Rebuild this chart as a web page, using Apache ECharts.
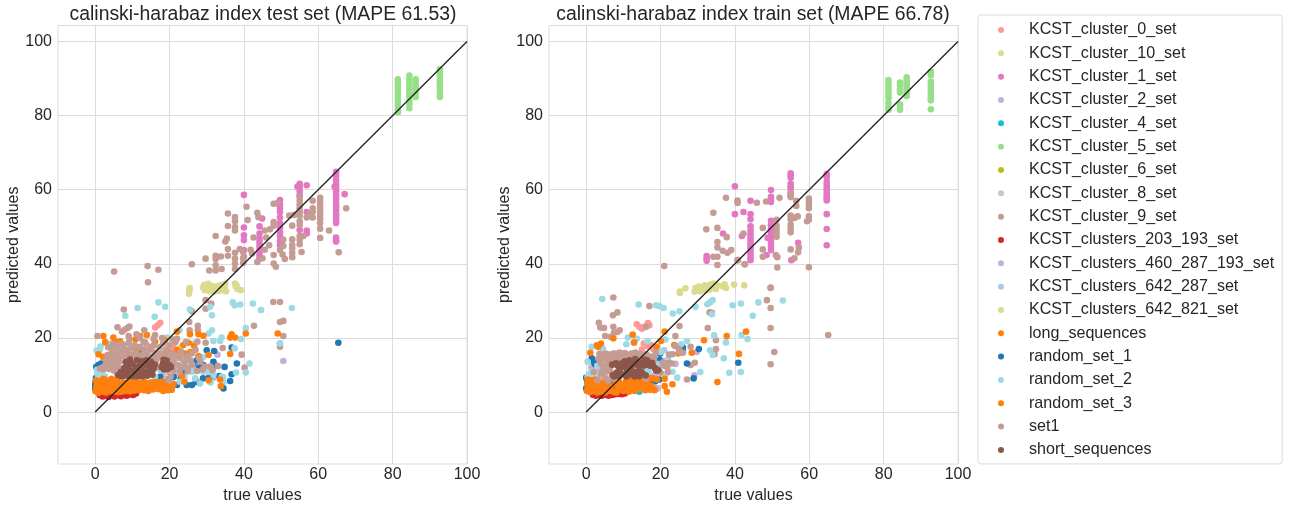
<!DOCTYPE html>
<html><head><meta charset="utf-8">
<style>html,body{margin:0;padding:0;background:#fff}#c{width:1293px;height:508px}</style>
<script src="https://cdn.jsdelivr.net/npm/echarts@6/dist/echarts.min.js"></script>
</head><body><div id="c"></div>
<script>
const seriesNames=['KCST_cluster_0_set','KCST_cluster_10_set','KCST_cluster_1_set','KCST_cluster_2_set','KCST_cluster_4_set','KCST_cluster_5_set','KCST_cluster_6_set','KCST_cluster_8_set','KCST_cluster_9_set','KCST_clusters_203_193_set','KCST_clusters_460_287_193_set','KCST_clusters_642_287_set','KCST_clusters_642_821_set','long_sequences','random_set_1','random_set_2','random_set_3','set1','short_sequences'];
const seriesColors=['#ff9896','#dbdb8d','#e377c2','#c5b0d5','#17becf','#98df8a','#bcbd22','#c7c7c7','#c49c94','#d62728','#c5b0d5','#aec7e8','#dbdb8d','#ff7f0e','#1f77b4','#9edae5','#ff7f0e','#c49c94','#8c564b'];
const axisTicksX=[0,20,40,60,80,100];
const axisTicksY=[0,20,40,60,80,100];
const identityLine=[[0,0],[100,100]];

// ---------- test set ----------
const testCluster0=[[16.1,22.8],[16.8,23.4],[17.5,24.1],[13.9,18],[14.3,17.6],[21,18],[20.6,17.2],[21.6,16.4]];
const testCluster10=[[25.3,33],[25.3,32.5],[25.4,33.5],[29,33.6],[29.3,34.3],[29.5,32.9],[30,33.2],[30.4,34.6],[30.8,32.6],[31,33.5],[31.5,34],[32,32.5],[32.3,33.3],[32.9,34],[33.2,32.7],[33.6,33.5],[34,34.3],[34.4,32.9],[34.8,33.7],[35,34.6],[35.2,32.6],[37.6,34.7],[37.8,33.9],[38.3,33.2],[39.2,32.9],[38,34.2]];
const testCluster1=[[40,58.6],[40,49.8],[40,47.7],[40,46.4],[40,43.7],[40,41.9],[44.9,52.2],[44.2,50.1],[44.2,48.2],[44.2,46.8],[44.2,45.9],[44.2,45],[44.2,44.1],[44.2,43.2],[44.2,42.3],[44.2,41.4],[49.7,57.2],[49.7,56],[49.7,55],[49.7,54],[49.7,52.5],[49.7,51],[49.7,49.8],[49.7,48.5],[49.7,47.4],[49.7,46],[49.7,45],[55,61.6],[55,60.6],[55,59.5],[54.4,60.8],[55,58.5],[55,49.1],[56.9,61.2],[56.9,54],[56.9,49],[56.9,48.2],[64.8,64.8],[64.8,63.7],[64.8,62.5],[64.8,61.5],[64.4,60.8],[64.8,60.5],[64.8,59.5],[64.8,58.5],[64.8,57.5],[64.8,56.5],[64.8,55.5],[64.8,54.5],[64.8,53.5],[64.8,52.8],[64.8,52],[64.8,51],[64.8,47.1],[64.8,46.4],[64.8,46],[67.1,58.8]];
const testCluster2=[[21,15],[23.6,14.2],[25.4,13.5],[27,12],[28.1,11.5],[19.3,10.8],[22.4,10.2],[18.5,12.7],[24.9,15.2]];
const testCluster4=[[3.2,6.3],[9.5,6.8]];
const testCluster5=[[81.4,89.8],[81.4,88.8],[81.4,88],[81.4,87.2],[81.4,86.1],[81.4,85.3],[81.4,84.2],[81.4,83.4],[81.4,82.5],[81.4,81.6],[81.4,80.9],[84.5,90.8],[84.5,89.8],[84.5,88.9],[84.5,87.8],[84.5,87],[84.5,86],[84.5,85.2],[84.5,84.1],[84.5,83.2],[84.5,82],[86.2,89.8],[86.2,88.9],[86.2,87.9],[86.2,87],[86.2,86],[86.2,85],[92.7,92.5],[92.7,91.6],[92.7,90.7],[92.7,89.6],[92.7,88.7],[92.7,87.9],[92.7,86.8],[92.7,85.9],[92.7,85]];
const testCluster6=[[7.5,7.3]];
const testCluster8=[[13.2,13.2],[18.2,10.2]];
const testCluster9=[[29.7,41.4],[30.7,38.2],[32.4,47.5],[32.4,42.2],[32.4,41.3],[32.4,39.6],[32.4,38.2],[34,38.6],[33.8,42],[35.7,53.6],[35.7,50.2],[35.7,44],[35.7,42.2],[35.4,46.8],[35,46],[37.6,52.6],[37.6,51.5],[37.6,49.9],[37.6,49],[37.6,43],[37.6,41.4],[37.6,40],[37.6,38.6],[40.7,55.4],[41,51.8],[38.9,44],[39.8,43.2],[39.8,41.5],[39.8,40.3],[42.6,47.1],[43.6,53.8],[43.9,52.6],[42.2,42.8],[41.8,43.8],[43.6,40.5],[45,41.5],[45.6,43.8],[46.8,45],[48,56.2],[48.9,56.3],[48,51.3],[48,50.3],[47,49.3],[45.6,49],[46,47.1],[48,40.1],[48.6,39.2],[48,42.4],[49.7,43.7],[50.4,42.5],[50.6,44.8],[50.6,46.5],[51,41.3],[53,41.8],[53,43],[53,44.2],[53,45.1],[53,46.6],[53,50.3],[52.2,53],[53.5,53.2],[55,58],[55,57],[55,56],[55,55],[55,54],[55,53],[55,51.5],[55,50.5],[55,47.5],[55,46.5],[55,45.3],[55.5,43.2],[56,47.5],[56.9,52.5],[57.5,53],[58.5,57],[58.5,55],[58.5,54],[58.5,52.5],[60.5,57.8],[60.5,57],[60.5,56],[60.5,55],[60.5,54],[60.5,53.1],[60.5,52.2],[60.5,51],[60.5,49.5],[60.5,47],[62.9,49],[67.5,55],[65.5,43.1],[26,39.9],[14.1,39.4],[17,38.4],[14.2,35],[5.1,37.9],[47.9,29.7],[49.7,29.7],[42.7,23.3],[49.7,24.3],[50.6,24.6],[50.6,20.5],[49.7,18.5],[49.7,17.6],[39.4,15.5],[40.2,12],[34.3,17.3],[29.7,30.2],[29.7,27.9],[31.2,29.3],[26,27.2],[25.3,24.3],[27.6,23.3],[27.6,22.1],[25.4,22.1]];
const testCluster203=[[1.2,4.6],[2,4.2],[2.8,4.4],[3.6,4.1],[4.5,4.5],[5.2,4.2],[6,4.6],[6.9,4.3],[7.8,4.6],[8.5,4.4],[9.4,4.8],[10.2,4.6],[11,5]];
const testCluster460=[[32.9,15.5],[50.6,13.8],[31.8,9.3],[26.9,7.9],[22,12],[17.5,9.5],[31.6,11.5]];
const testCluster642a=[[11,16.5],[15.5,13.2],[20.5,14.8],[4.2,13.2]];
const testCluster642b=[[25.2,31.9],[23,17.5]];
const testLong=[[0.5,8.1],[1.1,7.4],[2.3,8.6],[3.4,7.2],[4.8,8.2],[6.2,7.5],[7.6,8],[9.1,7.3],[10.3,8.5],[11.8,7.6],[13.2,8.1],[14.7,7.2],[16,8.4],[17.5,7.5],[18.9,7.1]];
const testRand1=[[65.4,18.7],[32,16.5],[36.7,17.4],[38.1,13.1],[34.8,12.2],[32.7,12.5],[31.8,13.6],[36.7,10.2],[36.3,8.4],[34.5,6.4],[33.4,9.7],[30.7,9.5],[29,9.1],[27.2,8.2],[26,7.3],[24.6,7.3],[22,7.3],[21.1,9.5],[17.5,9.5],[0.9,12.7],[0.3,12.2],[0,7.3],[0,6.4],[29.1,12.7],[26.4,13.1],[23.8,10.9],[30,16.7],[27.3,14],[12,16.2],[0.2,9.2],[0.1,8.2],[1.6,13.1],[19,8.2],[23,8.9],[28,12.1]];
const testRand2=[[8.1,26],[11.4,28.1],[16,25.7],[17,29.6],[18.8,28.4],[25.5,27.7],[30.9,28.4],[31.4,26.1],[37,29.6],[37.5,28.8],[39,29],[42.4,29.3],[44.6,27.5],[52.9,28.1],[40.5,22.7],[31.4,22.1],[30.5,21.2],[22.7,22.1],[34,20.1],[33.6,19.2],[31.8,19.2],[39.2,19.7],[37.5,17.2],[41.5,13.1],[40.5,10.7],[37.9,10.7],[34.4,9.4],[49.7,18.5],[1.3,16.9],[0.4,16.6],[3.8,18.5],[1.4,17.7],[19.3,20.1],[0.6,10.6],[1.8,11.9],[26.5,18.5],[29,14.8],[14.8,10.9],[16.1,9.5],[17.5,11.3],[20.6,7.7],[22.8,8.2],[25,12.2],[26,10.9],[26.9,9.1],[29.1,10.9],[30.4,10.8],[31.8,10],[34,9.5],[34.5,8.1],[28.2,7.7],[31,8],[0.8,9.9],[1.7,10.2],[2.6,9.7],[0.5,11.4],[19.5,13],[22.5,11],[24,9.5],[21,14.5]];
const testRand3=[[0.9,15.6],[2.2,20.5],[2.7,18.8],[2.1,14.9],[4.9,20.1],[5.3,19],[6.7,19.1],[10.8,19.6],[12.1,20.5],[13.9,20.8],[14.8,16.9],[16.1,19],[18.8,19.4],[22,21.7],[25.5,21],[27.8,21],[29.1,20.6],[25.1,18.7],[26.6,17.9],[23.7,18.1],[24.2,15.8],[25.6,16.2],[27.8,15.1],[30.5,15.4],[36.7,21],[36.3,20.1],[37.6,20.1],[40.5,21.2],[36.3,15.7],[49.1,21.2],[30.5,8.6],[33.6,8.8],[33.8,7],[24,8.2],[23.3,9.8],[11.2,16.9],[16.5,15.8],[19.3,16.3],[22,16.8],[0.1,5.6],[0.3,6.7],[0.5,7.6],[0.2,8.6],[0.9,5.2],[1.1,6.2],[1.2,7.2],[1.3,8.4],[1.9,5.6],[2,6.6],[2.1,7.6],[2.2,9],[2.8,5.3],[2.9,6.3],[3.1,7.4],[3.2,8.5],[3.8,5.6],[4,6.5],[4.1,7.9],[4.4,9],[5,5.5],[5.2,6.6],[5.4,7.8],[5.9,8.8],[6.1,5.4],[6.4,6.4],[6.6,7.5],[7.1,5.5],[7.5,6.5],[7.7,7.6],[8.3,5.7],[8.5,6.8],[8.7,8],[9.4,5.6],[9.6,6.6],[10,7.6],[10.5,5.8],[10.8,6.8],[11.1,7.9],[11.7,5.9],[12,6.9],[12.3,8],[13.1,5.9],[13.4,6.9],[13.7,7.9],[14.3,5.7],[14.6,6.9],[15,8],[15.5,6.1],[15.9,7.2],[16.3,8.1],[17,6.2],[17.3,7.1],[17.7,8.2],[18.3,5.7],[18.5,6.8],[19,7.9],[19.6,5.9],[20,6.4],[20.1,7.3],[20.6,6],[21.1,7.6]];
const testSet1=[[7.7,27.7],[6,22.9],[7.2,21.7],[8.7,22.7],[9.2,23.1],[13.2,22.1],[11.1,21],[16.1,20.8],[0.6,20.5],[7.9,22.2],[9.2,19.7],[12,20],[15.7,19.8],[20.9,19.6],[18.3,18.6],[21.6,18.9],[2.6,12.6],[3,14],[3.3,15.4],[3.7,11.6],[4,13.1],[4.3,14.6],[4.5,16.2],[4.6,17],[5,11.2],[5.2,12.6],[5.3,14.1],[5.6,15.6],[5.8,17.3],[6,10.2],[6.3,12],[6.5,13.6],[6.8,15],[7,16.4],[7.4,18.3],[7.7,17],[8,15.7],[8.3,14.3],[8.7,16.8],[9,18.6],[9.4,15.4],[9.8,17.2],[10.2,15.5],[10.6,18],[11,16],[11.5,15.2],[12,17.6],[12.5,15.3],[13,16.9],[13.4,18.8],[13.9,15.5],[14.6,16.9],[15.2,15],[15.7,18],[16.2,16.1],[16.8,14.6],[17.3,17.5],[17.8,15.8],[18.5,14.8],[19,16.9],[19.6,15.3],[20.2,14.3],[20.7,16],[21.2,13.4],[21.7,15],[22.3,12.7],[22.7,14.6],[23.1,16.3],[23.6,12.1],[24,13.4],[24.6,15],[25,11.8],[25.6,14],[26.1,12.8],[27,16.8],[27.9,14.6],[28.3,13.6],[29.5,12.3],[30.9,12.3],[29.7,18.7],[24.4,18.9],[27.5,19],[20,8.5],[19.5,8.9],[2.2,11.5],[1.3,11.7],[17,12.2],[4.8,18.4],[3.5,17.5],[6.5,18.2],[9,20.5],[13,19],[15,17.5],[18,20],[20,18],[22,19.8],[23,15.3],[26,15.8],[14.5,14.6],[16.3,13.8],[24.9,11],[27.4,11.1],[28.9,11.5],[31.5,11.3],[33,12.4],[22.7,11],[20.3,9.6],[21,11.2]];
const testShort=[[6.2,10],[6.9,10.8],[7.1,9.6],[7.8,11.9],[8,9.8],[8.2,13.5],[8.5,10.7],[8.9,12.6],[9.2,9.6],[9.4,14.2],[9.7,11.2],[10,13],[10.3,9.7],[10.6,10.9],[10.9,12.2],[11.2,14],[11.4,9.6],[11.8,10.8],[12,12.5],[12.4,13.7],[12.7,9.7],[12.9,11.1],[13.3,12.7],[13.7,14],[14,9.8],[14.3,11.2],[14.6,12.6],[15,13.6],[15.4,10.1],[15.7,11.6],[16,12.8],[14,10.5],[11,11.6],[8.4,12.2],[17.9,12.1],[18.2,13.1],[18.5,11.5],[18.9,12.5],[19.2,13.9],[19.5,11.6],[19.9,12.7],[20.4,12.2],[18.4,14.1]];

// ---------- train set ----------
const trainCluster0=[[13.6,23.7],[14.3,23],[15,22.5],[15.8,23.1],[16.6,24],[17,23.4],[15.5,18.5],[16.5,17.8],[17.5,18],[18,17],[15,16.9]];
const trainCluster10=[[25.2,32.5],[26.7,33.4],[29.2,32.5],[29.4,33.5],[29.8,32.9],[30.3,33.9],[30.7,32.6],[31.3,33.5],[31.9,34.2],[32.1,32.9],[32.7,33.8],[33.1,33],[33.5,34.5],[33.9,33.4],[34.3,34.7],[34.9,33.2],[35.2,34.2],[36.5,34],[37.2,34.5],[37.6,33.5],[39.8,34.4],[42.5,34.2]];
const trainCluster1=[[32.4,42.1],[32.4,41.5],[32.4,40.8],[40,60.9],[40,53.4],[36.8,48.2],[41.9,47.5],[42.3,54],[44.2,57],[44.2,53.4],[44.2,52],[44.2,50.1],[44.2,49],[44.2,48],[44.2,47],[44.2,46.2],[44.2,45.4],[44.2,44.5],[44.2,43.6],[44.2,42.7],[44.2,41.8],[44.2,41],[49.7,59.9],[49.7,58.1],[49.7,57.3],[49.7,56.7],[49.7,51.6],[49.7,50.4],[49.7,49.4],[49.7,48.4],[49.7,47.3],[49.7,46.4],[49.7,45.5],[49.7,44.6],[49.7,43.7],[48.8,47],[48.5,42.4],[55,64.4],[55,63.8],[55,63.2],[55,61.6],[55,60.8],[55,60.3],[55,59.2],[55,58.3],[55.2,41],[57,45.7],[64.7,64.2],[64.7,63.4],[64.7,62.1],[64.7,61.3],[64.7,60.6],[64.7,59.9],[64.7,59],[64.7,58.3],[64.7,57.6],[64.7,57.1],[64.7,53.4],[64.7,49.4],[64.7,45]];
const trainCluster2=[[1.6,12],[3.5,11.5],[19.2,6.4],[18.5,9.8],[17,14.2],[21,13.8],[14.5,15.6],[24,13]];
const trainCluster4=[[14.3,5.5],[3.5,6.6]];
const trainCluster5=[[81.3,89.6],[81.3,88.8],[81.3,88],[81.3,87],[81.3,86.2],[81.3,85.4],[81.3,84.7],[81.3,83.4],[81.3,82.3],[81.3,81.6],[84.4,88.9],[84.4,88.1],[84.4,87],[84.4,86.2],[84.4,83],[84.4,82.3],[84.4,81.6],[86.2,90.3],[86.2,89.5],[86.2,88.7],[86.2,87.9],[86.2,87],[86.2,86.1],[86.2,85.3],[92.7,91.8],[92.7,90.9],[92.7,89.2],[92.7,88.3],[92.7,87.4],[92.7,86.5],[92.7,85.7],[92.7,84.9],[92.7,84.1],[92.7,81.7]];
const trainCluster6=[[8.8,7.4]];
const trainCluster8=[[12.5,13.1],[5,10.6]];
const trainCluster9=[[37.6,57.8],[40.7,57.1],[40.7,56.4],[45.9,56.5],[48.4,56.8],[52,57.8],[34.2,53.8],[35.3,49.7],[32.3,49.3],[37.8,47.2],[42.3,48.2],[35.3,45.9],[35.3,44.4],[36.7,43.5],[38,43],[39,43.7],[34.2,41.9],[35.3,41.9],[35.3,39.7],[40.7,41],[42.6,39.9],[47.5,49.7],[47.5,43.9],[47.5,41.9],[51,42.4],[51.4,41.8],[51.4,39],[49.6,33.6],[51.2,51.9],[51.2,50.3],[51.2,49.2],[51.2,48.2],[51.2,47.3],[55,59],[55,58],[55,53],[55,52],[55,50.5],[55,49.5],[55,48.5],[56.5,57],[56.5,55.6],[56.9,52.8],[56,52.4],[55,43.9],[56,41.5],[59.9,57.6],[59.9,56.8],[59.9,56],[59.9,55],[59.9,52.8],[59.9,51.9],[59.4,51.5],[59.9,39.1],[57.2,44.4],[57,43.1],[21,39.4],[40.8,41],[42.7,39.9],[7.3,30.9],[7.2,26.1],[8.4,26.9],[17,28.6],[3.4,24.1],[3.8,22.8],[4.8,22.7],[7.3,23],[7.5,21.4],[9,22.1],[8.4,21.6],[5.1,20.5],[6.5,20.3],[16.1,23],[25.1,23.2],[24,20.5],[32.7,22.7],[33.2,26.9],[33.8,26.8],[34.9,19.4],[34.9,17],[34.5,15.6],[28.1,17.6],[29.2,13.3],[28.1,12.7],[27.1,8.8],[48.6,30.2],[49.6,33.5],[49.6,28.1],[49.6,22.7],[50.6,16.2],[49.6,12.9],[65.1,20.8]];
const trainCluster203=[[1.8,4.7],[2.6,4.4],[3.4,4.6],[4.2,4.4],[5.2,4.7],[6,4.4],[7,4.6],[7.8,4.8],[8.8,4.9],[9.6,4.8],[10.4,5]];
const trainCluster460=[[19,6.4],[29.1,9.9],[29.7,16.2],[18.2,9.8],[1.4,12],[16.4,11.2],[3.8,12.5]];
const trainCluster642a=[[12.8,18.7],[10.5,14.6],[6,14.8],[21,16.7]];
const trainCluster642b=[[25.2,32.1]];
const trainLong=[[1.2,7.4],[2.4,8.5],[3.5,7.2],[5,8.1],[6.3,7.5],[7.8,8.2],[9.2,7.2],[10.6,8.1],[12,7.6],[13.4,8.1],[14.9,7.1],[16.2,8.4],[17.3,7.5],[17.8,6.4]];
const trainRand1=[[0,9.3],[0.2,8.7],[1.5,14.5],[2,13.6],[2.4,12.9],[12.9,15.8],[19.9,15.8],[26,17.4],[26,16.7],[30.3,17],[27.1,13.1],[40.9,13.3],[28.9,9.1],[19.7,8.8],[15.4,13.6],[17.2,8.2],[0,6.4],[7.7,6.9],[7,8.5],[19.7,14.2],[15.5,7.5],[16.3,10.4],[18.6,8.3]];
const trainRand2=[[4.3,30.5],[14.1,29],[18.8,28.8],[19.7,28.6],[20.8,28.1],[23.3,26.6],[25.1,27.2],[29.4,28.4],[32.6,29.1],[33.3,29.6],[34,30.2],[39.4,28.8],[41.6,29.3],[46.3,29.6],[52.9,30.1],[44.8,26],[33.8,26.4],[34.4,20.7],[41.8,20.8],[43.4,19.7],[37.6,18.8],[33.3,16.7],[34,15.4],[37,14.5],[38.5,10.6],[41.6,10.8],[30.7,10.8],[24.5,9.3],[27.1,19.2],[25.5,18.3],[21.3,19.6],[16.5,19.2],[13.6,19.8],[11.2,20.1],[10.8,18.3],[4.5,17.1],[1.5,17.6],[0.4,13.6],[23.2,10.9],[0.8,10.3],[1.5,11],[0.4,9.6],[2.7,9.8],[1.9,9.1],[3,12.5],[16,12],[16.8,10.8],[19,13],[21.4,10.2],[20,16.2],[22,14.2]];
const trainRand3=[[21.1,21.7],[12.5,20.9],[4,18.5],[3.2,17.6],[1.1,16],[12.9,18.8],[7.3,19.9],[20.1,19.2],[19,17.6],[23.7,18.1],[28.4,16],[24.8,15.8],[31.7,19.4],[37.8,20.5],[43,21.7],[41.1,15.7],[35.3,8.1],[21.1,9],[23.2,7.5],[21.1,7],[21.7,5.5],[2.9,18],[4.8,15.4],[7.4,15.7],[18,9.1],[0.2,5.7],[0.4,6.8],[0.3,7.8],[0.4,8.8],[1,5.4],[1.2,6.3],[1.3,7.5],[1.5,8.6],[2,5.6],[2.2,6.7],[2.3,7.7],[2.5,8.8],[3,5.3],[3.1,6.3],[3.2,7.3],[3.3,8.5],[4.1,5.6],[4.3,6.7],[4.5,7.7],[5.1,5.3],[5.4,6.3],[5.6,7.4],[5.8,8.4],[6.3,5.7],[6.6,6.7],[7.4,5.4],[7.7,7.6],[8.2,5.3],[8.6,6.3],[8.8,8.2],[9,7.1],[10,5.7],[10.3,6.7],[10.6,7.7],[11,8.7],[11.5,5.5],[11.7,6.4],[12,7.7],[12.4,9],[13,5.7],[13.2,6.8],[13.5,8],[14,9],[14.5,6.4],[14.9,7.5],[15.2,8.5],[15.9,5.9],[16.2,6.8],[16.5,8.1],[17.1,9.2],[17.2,6],[17.5,7.1],[18,6.2],[18.4,5.9],[19,8.8]];
const trainSet1=[[3.3,14.4],[3.6,15.7],[4,13],[4.3,14.6],[4.5,11.2],[4.8,12.3],[5,9.3],[5.2,15.8],[5.5,14.1],[5.8,13],[6,8.5],[6.2,15.5],[6.4,11.6],[6.7,14.2],[7,10.3],[7.2,15.7],[7.5,13.2],[7.8,9],[8,15.8],[8.3,14.4],[8.8,15.2],[9,16.1],[9.3,13.8],[9.6,15.3],[10,14.5],[10.4,15.9],[10.8,14],[11.2,15.5],[11.7,13.9],[12.2,15.8],[12.6,14.7],[13.2,16.1],[13.8,14.8],[14.5,15.7],[15.3,14.5],[16.2,15.6],[16.9,13.9],[17.5,15],[18,13.5],[18.3,14.7],[18.7,16.1],[19.2,11.8],[20,10.6],[20.6,13.4],[20.9,12.5],[21.5,13.2],[22.4,13.3],[22,10.8],[23,13.1],[22.3,15.5],[23.2,15.6],[24,17.8],[25,17],[25.2,16],[26,16],[21.8,12.1],[19.5,11.1],[16,9],[17.6,12.5],[14,11],[13,12.7],[6.8,9.4],[2,10.8],[3,8.6],[4,10.2],[5.8,11],[11,12.8]];
const trainShort=[[7,12.8],[7.2,10],[7.5,9.6],[8,13.2],[8.2,10.7],[8.5,12.5],[8.9,9.7],[9,11.8],[9.5,13.1],[9.8,10.2],[10,12.2],[10.4,13.7],[10.8,9.6],[11,11],[11.2,12.8],[11.6,14],[12,10.2],[12.3,11.2],[12.7,13],[13,9.6],[13.2,14.3],[13.6,10.9],[14,12.5],[14.3,9.7],[14.6,13.4],[15,10.6],[15.4,12.5],[15.7,14.2],[16,9.9],[9,10.9],[12,12.2],[14.6,11],[16.4,14],[16.8,13.1],[17.2,12.5],[17.7,13.3],[18,12.4],[18.5,11.8],[18.8,11.2],[19.4,11.3],[16.3,12.8]];

const testData=[testCluster0,testCluster10,testCluster1,testCluster2,testCluster4,testCluster5,testCluster6,testCluster8,testCluster9,testCluster203,testCluster460,testCluster642a,testCluster642b,testLong,testRand1,testRand2,testRand3,testSet1,testShort];
const trainData=[trainCluster0,trainCluster10,trainCluster1,trainCluster2,trainCluster4,trainCluster5,trainCluster6,trainCluster8,trainCluster9,trainCluster203,trainCluster460,trainCluster642a,trainCluster642b,trainLong,trainRand1,trainRand2,trainRand3,trainSet1,trainShort];

const ink='#262626', gridC='#dcdcdc', font='"Liberation Sans",Arial,sans-serif';
function xAxis(i){return {gridIndex:i,type:'value',min:-10,max:100,name:'true values',nameLocation:'middle',nameGap:21,
  nameTextStyle:{color:ink,fontSize:16,fontFamily:font},
  axisLine:{show:false},axisTick:{show:false,customValues:axisTicksX},
  axisLabel:{color:ink,fontSize:16,fontFamily:font,customValues:axisTicksX,margin:3,showMinLabel:true,showMaxLabel:true,hideOverlap:false},
  splitLine:{show:true,customValues:axisTicksX,lineStyle:{color:gridC,width:1}}};}
function yAxis(i){return {gridIndex:i,type:'value',min:-14,max:104.3,name:'predicted values',nameLocation:'middle',nameGap:24,
  nameTextStyle:{color:ink,fontSize:16,fontFamily:font},
  axisLine:{show:false},axisTick:{show:false,customValues:axisTicksY},
  axisLabel:{color:ink,fontSize:16,fontFamily:font,customValues:axisTicksY,margin:6},
  splitLine:{show:true,customValues:axisTicksY,lineStyle:{color:gridC,width:1}}};}
const series=[];
[testData,trainData].forEach((panel,p)=>{
  panel.forEach((d,i)=>series.push({name:seriesNames[i],type:'scatter',xAxisIndex:p,yAxisIndex:p,data:d,symbolSize:6.6,
    itemStyle:{color:seriesColors[i],opacity:1},z:2+i*0.01,silent:true,animation:false}));
  series.push({type:'line',name:'identity',xAxisIndex:p,yAxisIndex:p,data:identityLine,showSymbol:false,symbol:'none',
    lineStyle:{color:ink,width:1.4},z:5,silent:true,animation:false,clip:false});
});
const chart=echarts.init(document.getElementById('c'),null,{renderer:'canvas'});
chart.setOption({animation:false,backgroundColor:'#fff',
  title:[
    {text:'calinski-harabaz index test set (MAPE 61.53)',left:258,top:0,textAlign:'center',textStyle:{color:ink,fontSize:19.4,fontWeight:'normal',fontFamily:font}},
    {text:'calinski-harabaz index train set (MAPE 66.78)',left:748,top:0,textAlign:'center',textStyle:{color:ink,fontSize:19.4,fontWeight:'normal',fontFamily:font}}],
  grid:[
    {left:58,top:25.5,width:409,height:438.5,show:true,outerBoundsMode:'none',borderColor:gridC,borderWidth:1,backgroundColor:'transparent'},
    {left:549,top:25.5,width:409,height:438.5,show:true,outerBoundsMode:'none',borderColor:gridC,borderWidth:1,backgroundColor:'transparent'}],
  xAxis:[xAxis(0),xAxis(1)],yAxis:[yAxis(0),yAxis(1)],
  legend:{show:true,data:seriesNames.map((n)=>({name:n,icon:'circle'})),orient:'vertical',left:978,top:15,
    itemWidth:46,itemHeight:6,itemGap:5.33,selectedMode:false,
    padding:[6,8,5,20],borderColor:gridC,borderWidth:1,borderRadius:3,
    textStyle:{color:ink,fontSize:16.1,fontFamily:font,lineHeight:18}},
  tooltip:{show:false},
  series});
</script></body></html>
